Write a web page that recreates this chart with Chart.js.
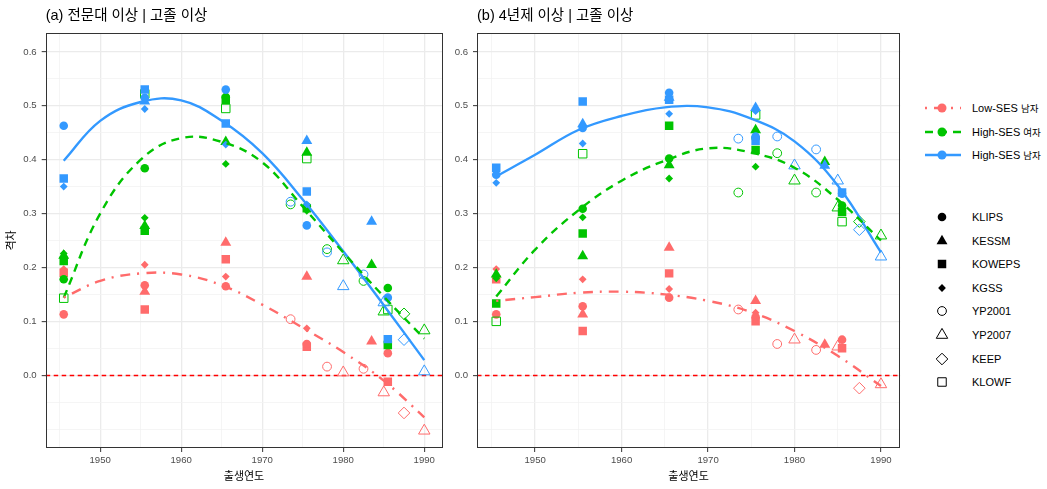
<!DOCTYPE html>
<html>
<head>
<meta charset="utf-8">
<script src="https://cdn.jsdelivr.net/npm/chart.js@4.4.1/dist/chart.umd.min.js"></script>
<style>
  html, body { margin: 0; padding: 0; background: #ffffff; }
  body { width: 1047px; height: 489px; position: relative; overflow: hidden;
         font-family: 'Liberation Sans', 'Noto Sans CJK KR', sans-serif; }
  #panelA { position: absolute; left: 0; top: 0; }
  #panelB { position: absolute; left: 450px; top: 0; }
  .lg { position: absolute; left: 0; top: 0; }
  .lg-row { position: absolute; height: 20px; display: flex; align-items: center; }
  .lg-row svg { position: absolute; left: 0; top: 0; }
  .lg-text { position: absolute; left: 50px; white-space: nowrap; font-size: 11px; color: #000;
             line-height: 20px; top: 0; }
  .lg-text .ko { font-family: 'Noto Sans CJK KR', sans-serif; font-size: 9.5px; }
</style>
</head>
<body>
<canvas id="panelA" width="455" height="489"></canvas>
<canvas id="panelB" width="460" height="489"></canvas>
<div id="legend" class="lg"></div>
<script>
// ---- survey sources and groups ----
const SURVEYS = ['KLIPS', 'KESSM', 'KOWEPS', 'KGSS', 'YP2001', 'YP2007', 'KEEP', 'KLOWF'];
const GROUPS = ['Low-SES 남자', 'High-SES 여자', 'High-SES 남자'];

// ---- (a) 전문대 이상 | 고졸 이상 : [survey, birth year, gap] ----
const A_LOW_MALE = [
  ['KLIPS', 1945.5, 0.113], ['KLIPS', 1955.5, 0.167], ['KLIPS', 1965.5, 0.165], ['KLIPS', 1975.5, 0.058], ['KLIPS', 1985.5, 0.041],
  ['KESSM', 1955.5, 0.155], ['KESSM', 1965.5, 0.246], ['KESSM', 1975.5, 0.183], ['KESSM', 1983.5, 0.063],
  ['KOWEPS', 1945.5, 0.190], ['KOWEPS', 1955.5, 0.122], ['KOWEPS', 1965.5, 0.215], ['KOWEPS', 1975.5, 0.053], ['KOWEPS', 1985.5, -0.012],
  ['KGSS', 1945.5, 0.197], ['KGSS', 1955.5, 0.205], ['KGSS', 1965.5, 0.183], ['KGSS', 1975.5, 0.087],
  ['YP2001', 1973.5, 0.104], ['YP2001', 1978, 0.016], ['YP2001', 1982.5, 0.012],
  ['YP2007', 1980, 0.005], ['YP2007', 1985, -0.032], ['YP2007', 1990, -0.103],
  ['KEEP', 1987.5, -0.070]
];
const A_HIGH_FEMALE = [
  ['KLIPS', 1945.5, 0.178], ['KLIPS', 1955.5, 0.384], ['KLIPS', 1965.5, 0.516], ['KLIPS', 1975.5, 0.313], ['KLIPS', 1985.5, 0.162],
  ['KESSM', 1945.5, 0.222], ['KESSM', 1955.5, 0.277], ['KESSM', 1965.5, 0.433], ['KESSM', 1975.5, 0.413], ['KESSM', 1983.5, 0.205],
  ['KOWEPS', 1945.5, 0.212], ['KOWEPS', 1955.5, 0.268], ['KOWEPS', 1965.5, 0.511], ['KOWEPS', 1975.5, 0.310], ['KOWEPS', 1985.5, 0.056],
  ['KGSS', 1945.5, 0.226], ['KGSS', 1955.5, 0.292], ['KGSS', 1965.5, 0.392], ['KGSS', 1975.5, 0.305],
  ['YP2001', 1973.5, 0.317], ['YP2001', 1978, 0.234], ['YP2001', 1982.5, 0.175],
  ['YP2007', 1980, 0.213], ['YP2007', 1985, 0.118], ['YP2007', 1990, 0.083],
  ['KEEP', 1987.5, 0.114],
  ['KLOWF', 1945.5, 0.143], ['KLOWF', 1955.5, 0.522], ['KLOWF', 1965.5, 0.495], ['KLOWF', 1975.5, 0.402], ['KLOWF', 1985.5, 0.122]
];
const A_HIGH_MALE = [
  ['KLIPS', 1945.5, 0.463], ['KLIPS', 1955.5, 0.515], ['KLIPS', 1965.5, 0.530], ['KLIPS', 1975.5, 0.278], ['KLIPS', 1985.5, 0.144],
  ['KESSM', 1955.5, 0.508], ['KESSM', 1975.5, 0.435], ['KESSM', 1983.5, 0.285],
  ['KOWEPS', 1945.5, 0.365], ['KOWEPS', 1955.5, 0.530], ['KOWEPS', 1965.5, 0.467], ['KOWEPS', 1975.5, 0.341], ['KOWEPS', 1985.5, 0.067],
  ['KGSS', 1945.5, 0.350], ['KGSS', 1955.5, 0.494], ['KGSS', 1965.5, 0.428], ['KGSS', 1975.5, 0.317],
  ['YP2001', 1973.5, 0.322], ['YP2001', 1978, 0.228], ['YP2001', 1982.5, 0.187],
  ['YP2007', 1980, 0.165], ['YP2007', 1985, 0.135], ['YP2007', 1990, 0.007],
  ['KEEP', 1987.5, 0.066]
];

// ---- (b) 4년제 이상 | 고졸 이상 : [survey, birth year, gap] ----
const B_LOW_MALE = [
  ['KLIPS', 1945.5, 0.113], ['KLIPS', 1955.5, 0.128], ['KLIPS', 1965.5, 0.144], ['KLIPS', 1975.5, 0.108], ['KLIPS', 1985.5, 0.066],
  ['KESSM', 1955.5, 0.113], ['KESSM', 1965.5, 0.237], ['KESSM', 1975.5, 0.138], ['KESSM', 1983.5, 0.057],
  ['KOWEPS', 1945.5, 0.178], ['KOWEPS', 1955.5, 0.082], ['KOWEPS', 1965.5, 0.189], ['KOWEPS', 1975.5, 0.100], ['KOWEPS', 1985.5, 0.050],
  ['KGSS', 1945.5, 0.197], ['KGSS', 1955.5, 0.178], ['KGSS', 1965.5, 0.160], ['KGSS', 1975.5, 0.116],
  ['YP2001', 1973.5, 0.122], ['YP2001', 1978, 0.058], ['YP2001', 1982.5, 0.047],
  ['YP2007', 1980, 0.066], ['YP2007', 1985, 0.053], ['YP2007', 1990, -0.017],
  ['KEEP', 1987.5, -0.024]
];
const B_HIGH_FEMALE = [
  ['KLIPS', 1955.5, 0.309], ['KLIPS', 1965.5, 0.402], ['KLIPS', 1975.5, 0.440], ['KLIPS', 1985.5, 0.315],
  ['KESSM', 1945.5, 0.187], ['KESSM', 1955.5, 0.221], ['KESSM', 1965.5, 0.390], ['KESSM', 1975.5, 0.455], ['KESSM', 1983.5, 0.396],
  ['KOWEPS', 1945.5, 0.133], ['KOWEPS', 1955.5, 0.263], ['KOWEPS', 1965.5, 0.463], ['KOWEPS', 1975.5, 0.418], ['KOWEPS', 1985.5, 0.303],
  ['KGSS', 1945.5, 0.180], ['KGSS', 1955.5, 0.293], ['KGSS', 1965.5, 0.365], ['KGSS', 1975.5, 0.387],
  ['YP2001', 1973.5, 0.339], ['YP2001', 1978, 0.412], ['YP2001', 1982.5, 0.339],
  ['YP2007', 1980, 0.361], ['YP2007', 1985, 0.311], ['YP2007', 1990, 0.259],
  ['KEEP', 1987.5, 0.285],
  ['KLOWF', 1945.5, 0.100], ['KLOWF', 1955.5, 0.411], ['KLOWF', 1975.5, 0.483], ['KLOWF', 1985.5, 0.285]
];
const B_HIGH_MALE = [
  ['KLIPS', 1945.5, 0.372], ['KLIPS', 1955.5, 0.459], ['KLIPS', 1965.5, 0.524], ['KLIPS', 1975.5, 0.443], ['KLIPS', 1985.5, 0.337],
  ['KESSM', 1955.5, 0.466], ['KESSM', 1965.5, 0.515], ['KESSM', 1975.5, 0.496], ['KESSM', 1983.5, 0.389],
  ['KOWEPS', 1945.5, 0.385], ['KOWEPS', 1955.5, 0.508], ['KOWEPS', 1965.5, 0.511], ['KOWEPS', 1975.5, 0.435], ['KOWEPS', 1985.5, 0.339],
  ['KGSS', 1945.5, 0.357], ['KGSS', 1955.5, 0.430], ['KGSS', 1965.5, 0.485], ['KGSS', 1975.5, 0.490],
  ['YP2001', 1973.5, 0.439], ['YP2001', 1978, 0.443], ['YP2001', 1982.5, 0.419],
  ['YP2007', 1980, 0.389], ['YP2007', 1985, 0.361], ['YP2007', 1990, 0.220],
  ['KEEP', 1987.5, 0.270]
];

// ---- smoothed trend per group ----
const CURVE_YEARS = [1945.5, 1950, 1955, 1960, 1965, 1970, 1975, 1980, 1985, 1990];
const A_FIT_LOW_MALE = [0.144, 0.175, 0.189, 0.187, 0.167, 0.131, 0.088, 0.043, -0.010, -0.078];
const A_FIT_HIGH_FEMALE = [0.144, 0.300, 0.400, 0.440, 0.433, 0.395, 0.313, 0.228, 0.146, 0.068];
const A_FIT_HIGH_MALE = [0.398, 0.472, 0.507, 0.510, 0.472, 0.412, 0.326, 0.230, 0.130, 0.028];
const B_FIT_LOW_MALE = [0.138, 0.145, 0.153, 0.155, 0.150, 0.138, 0.117, 0.082, 0.036, -0.020];
const B_FIT_HIGH_FEMALE = [0.146, 0.233, 0.306, 0.361, 0.398, 0.421, 0.413, 0.385, 0.326, 0.250];
const B_FIT_HIGH_MALE = [0.369, 0.409, 0.455, 0.481, 0.497, 0.497, 0.476, 0.434, 0.352, 0.228];

// ---- axes ----
const X_BREAKS = [1945, 1950, 1955, 1960, 1965, 1970, 1975, 1980, 1985, 1990];
const X_LABELS = [1950, 1960, 1970, 1980, 1990];
const Y_BREAKS = [-0.1, -0.05, 0, 0.05, 0.1, 0.15, 0.2, 0.25, 0.3, 0.35, 0.4, 0.45, 0.5, 0.55, 0.6];
const Y_LABELS = [0, 0.1, 0.2, 0.3, 0.4, 0.5, 0.6];
const X_MIN = 1943.275, X_MAX = 1992.225;
const Y_MIN = -0.135, Y_MAX = 0.635;

// ---- styling ----
const FONT = "'Liberation Sans', 'Noto Sans CJK KR', sans-serif";
const GROUP_COLORS = ['#FF6B6B', '#00C400', '#3399FF'];
const GROUP_DASH = [[2, 7, 10, 7], [8, 6], []];
const SHAPES = {
  KLIPS:  { style: 'circle',   r: 4.3, filled: true },
  KESSM:  { style: 'triangle', r: 6.3, filled: true },
  KOWEPS: { style: 'rect',     r: 6.0, filled: true },
  KGSS:   { style: 'rectRot',  r: 3.9, filled: true },
  YP2001: { style: 'circle',   r: 4.4, filled: false },
  YP2007: { style: 'triangle', r: 6.6, filled: false },
  KEEP:   { style: 'rectRot',  r: 5.8, filled: false },
  KLOWF:  { style: 'rect',     r: 6.0, filled: false }
};

function pointSets(rows, color, order) {
  return SURVEYS.map(s => {
    const sh = SHAPES[s];
    return {
      label: s,
      data: rows.filter(r => r[0] === s).map(r => ({ x: r[1], y: r[2] })),
      showLine: false,
      pointStyle: sh.style,
      pointRadius: sh.r,
      pointBackgroundColor: sh.filled ? color : 'rgba(0,0,0,0)',
      pointBorderColor: color,
      pointBorderWidth: sh.filled ? 0 : 1,
      order
    };
  });
}

function curveSet(label, vals, color, dash) {
  return {
    label,
    data: CURVE_YEARS.map((x, i) => ({ x, y: vals[i] })),
    showLine: true,
    borderColor: color,
    borderWidth: 2.4,
    borderDash: dash,
    borderCapStyle: 'butt',
    tension: 0.4,
    pointRadius: 0,
    fill: false,
    order: 0
  };
}

function gridOpts(majors) {
  const isMajor = c => c.tick && majors.includes(c.tick.value);
  return {
    color: c => isMajor(c) ? '#EBEBEB' : '#F2F2F2',
    lineWidth: c => isMajor(c) ? 1.3 : 0.8,
    drawTicks: true,
    tickLength: 4,
    tickWidth: 1,
    tickColor: c => isMajor(c) ? '#333333' : 'rgba(0,0,0,0)'
  };
}

// zero reference line and panel frame
const panelDecor = {
  id: 'panelDecor',
  beforeDatasetsDraw(chart) {
    const { ctx, chartArea: a, scales: { y } } = chart;
    const py = Math.round(y.getPixelForValue(0)) + 0.5;
    ctx.save();
    ctx.strokeStyle = '#FF0000';
    ctx.lineWidth = 1.4;
    ctx.setLineDash([4.5, 3.5]);
    ctx.beginPath();
    ctx.moveTo(a.left, py);
    ctx.lineTo(a.right, py);
    ctx.stroke();
    ctx.restore();
  },
  afterDraw(chart) {
    const { ctx, chartArea: a } = chart;
    ctx.save();
    ctx.strokeStyle = '#333333';
    ctx.lineWidth = 1;
    ctx.strokeRect(Math.round(a.left) + 0.5, Math.round(a.top) + 0.5,
                   Math.round(a.right - a.left) - 1, Math.round(a.bottom - a.top) - 1);
    ctx.restore();
  }
};

function makePanel(canvasId, title, low, fem, male, fits, yAxisWidth, padRight, showYTitle) {
  const datasets = [
    curveSet(GROUPS[0], fits[0], GROUP_COLORS[0], GROUP_DASH[0]),
    curveSet(GROUPS[1], fits[1], GROUP_COLORS[1], GROUP_DASH[1]),
    curveSet(GROUPS[2], fits[2], GROUP_COLORS[2], GROUP_DASH[2]),
    ...pointSets(male, GROUP_COLORS[2], 1),
    ...pointSets(fem, GROUP_COLORS[1], 2),
    ...pointSets(low, GROUP_COLORS[0], 3)
  ];
  return new Chart(document.getElementById(canvasId), {
    type: 'scatter',
    data: { datasets },
    options: {
      responsive: false,
      animation: false,
      events: [],
      layout: { padding: { left: 0, right: padRight, top: 0, bottom: 3 } },
      plugins: {
        legend: { display: false },
        tooltip: { enabled: false },
        title: {
          display: true, text: title, align: 'start', fullSize: false, color: '#000000',
          font: { family: FONT, size: 14.5, weight: 'normal' },
          padding: { top: 7.6, bottom: 8 }
        }
      },
      scales: {
        x: {
          type: 'linear', min: X_MIN, max: X_MAX,
          afterBuildTicks: ax => { ax.ticks = X_BREAKS.map(v => ({ value: v })); },
          afterFit: ax => { ax.height = 38; ax.paddingLeft = 0; ax.paddingRight = 0; },
          border: { display: false },
          grid: gridOpts(X_LABELS),
          ticks: {
            autoSkip: false, maxRotation: 0, minRotation: 0, padding: 2.5, color: '#4D4D4D',
            font: { family: FONT, size: 9.6 },
            callback: v => X_LABELS.includes(v) ? String(v) : ''
          },
          title: {
            display: true, text: '출생연도', color: '#000000',
            font: { family: FONT, size: 11 }, padding: { top: 0, bottom: 2 }
          }
        },
        y: {
          type: 'linear', min: Y_MIN, max: Y_MAX,
          afterBuildTicks: ax => { ax.ticks = Y_BREAKS.map(v => ({ value: v })); },
          afterFit: ax => { ax.width = yAxisWidth; ax.paddingTop = 0; ax.paddingBottom = 0; },
          border: { display: false },
          grid: gridOpts(Y_LABELS),
          ticks: {
            autoSkip: false, padding: 5, color: '#4D4D4D',
            font: { family: FONT, size: 9.6 },
            callback: v => Y_LABELS.includes(v) ? v.toFixed(1) : ''
          },
          title: {
            display: showYTitle, text: '격차', color: '#000000',
            font: { family: FONT, size: 11 }, padding: { top: 5, bottom: 0 }
          }
        }
      }
    },
    plugins: [panelDecor]
  });
}

makePanel('panelA', '(a) 전문대 이상 | 고졸 이상', A_LOW_MALE, A_HIGH_FEMALE, A_HIGH_MALE,
  [A_FIT_LOW_MALE, A_FIT_HIGH_FEMALE, A_FIT_HIGH_MALE], 45.7, 12.7, true);
makePanel('panelB', '(b) 4년제 이상 | 고졸 이상', B_LOW_MALE, B_HIGH_FEMALE, B_HIGH_MALE,
  [B_FIT_LOW_MALE, B_FIT_HIGH_FEMALE, B_FIT_HIGH_MALE], 27, 9.8, false);

// ---- legend ----
(function buildLegend() {
  const host = document.getElementById('legend');
  const NS = 'http://www.w3.org/2000/svg';
  const KEY_LEFT = 922;

  function row(top, svg, html) {
    const r = document.createElement('div');
    r.className = 'lg-row';
    r.style.left = KEY_LEFT + 'px';
    r.style.top = (top - 10) + 'px';
    r.appendChild(svg);
    const t = document.createElement('div');
    t.className = 'lg-text';
    t.innerHTML = html;
    r.appendChild(t);
    host.appendChild(r);
  }
  function el(name, attrs) {
    const e = document.createElementNS(NS, name);
    for (const k in attrs) e.setAttribute(k, attrs[k]);
    return e;
  }
  function shapeEl(style, r, cx, cy, filled, color) {
    const paint = filled ? { fill: color, stroke: 'none' } : { fill: 'none', stroke: color, 'stroke-width': 1 };
    if (style === 'circle') return el('circle', Object.assign({ cx, cy, r }, paint));
    let pts;
    if (style === 'triangle') {
      pts = [0, 2 * Math.PI / 3, 4 * Math.PI / 3].map(a => [cx + Math.sin(a) * r, cy - Math.cos(a) * r]);
    } else if (style === 'rect') {
      const s = Math.SQRT1_2 * r;
      pts = [[cx - s, cy - s], [cx + s, cy - s], [cx + s, cy + s], [cx - s, cy + s]];
    } else {
      pts = [[cx - r, cy], [cx, cy - r], [cx + r, cy], [cx, cy + r]];
    }
    return el('polygon', Object.assign({ points: pts.map(p => p.join(',')).join(' ') }, paint));
  }

  const lineRows = [108, 131.5, 155];
  GROUPS.forEach((g, i) => {
    const svg = el('svg', { width: 40, height: 20 });
    const line = el('line', { x1: 3, y1: 10, x2: 39, y2: 10, stroke: GROUP_COLORS[i], 'stroke-width': 2.4 });
    if (GROUP_DASH[i].length) line.setAttribute('stroke-dasharray', GROUP_DASH[i].join(' '));
    svg.appendChild(line);
    svg.appendChild(el('circle', { cx: 20, cy: 10, r: 4.5, fill: GROUP_COLORS[i] }));
    const parts = g.split(' ');
    row(lineRows[i], svg, parts[0] + ' <span class="ko">' + parts[1] + '</span>');
  });

  SURVEYS.forEach((s, i) => {
    const sh = SHAPES[s];
    const svg = el('svg', { width: 40, height: 20 });
    svg.appendChild(shapeEl(sh.style, sh.r, 20, 10, sh.filled, '#000000'));
    row(217 + i * 23.6, svg, s);
  });
})();
</script>
</body>
</html>
